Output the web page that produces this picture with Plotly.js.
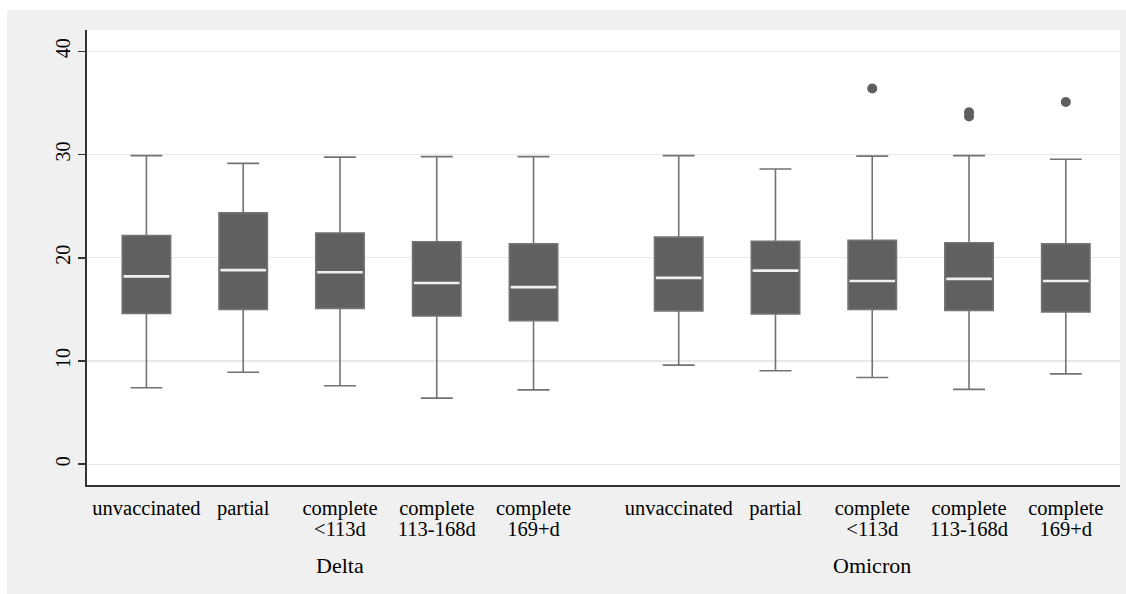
<!DOCTYPE html>
<html>
<head>
<meta charset="utf-8">
<script src="https://cdn.plot.ly/plotly-3.0.1.min.js"></script>
<style>
html,body{margin:0;padding:0;background:#ffffff;}
#chart{position:absolute;left:7px;top:10px;width:1119px;height:584px;}
</style>
</head>
<body>
<div id="chart"></div>
<script>
// ---- data ----
var groups = ["Delta", "Omicron"];
var statusLine1 = ["unvaccinated", "partial", "complete", "complete", "complete"];
var statusLine2 = ["", "", "&lt;113d", "113-168d", "169+d"];

var deltaLower  = [7.4, 8.9, 7.6, 6.4, 7.2];
var deltaQ1     = [14.6, 15.0, 15.1, 14.35, 13.9];
var deltaMedian = [18.2, 18.8, 18.6, 17.55, 17.15];
var deltaQ3     = [22.15, 24.35, 22.4, 21.55, 21.35];
var deltaUpper  = [29.9, 29.15, 29.75, 29.8, 29.8];

var omiLower  = [9.6, 9.05, 8.4, 7.25, 8.75];
var omiQ1     = [14.85, 14.55, 15.0, 14.9, 14.75];
var omiMedian = [18.05, 18.75, 17.75, 17.95, 17.75];
var omiQ3     = [22.0, 21.6, 21.7, 21.45, 21.35];
var omiUpper  = [29.9, 28.6, 29.85, 29.9, 29.55];

// outliers: [status index, value]
var omiOutlierIdx = [2, 3, 3, 4];
var omiOutlierVal = [36.4, 34.1, 33.7, 35.1];

var yTicks = [0, 10, 20, 30, 40];

// ---- build ----
var groupGap = 5.5;
function pos(g, i){ return g * groupGap + i; }

var xs = [], tick1 = [], tick2 = [], lower = [], q1 = [], med = [], q3 = [], upper = [];
[[deltaLower, deltaQ1, deltaMedian, deltaQ3, deltaUpper],
 [omiLower, omiQ1, omiMedian, omiQ3, omiUpper]].forEach(function(s, g){
  for (var i = 0; i < statusLine1.length; i++){
    xs.push(pos(g, i));
    tick1.push(statusLine1[i]);
    tick2.push(statusLine2[i]);
    lower.push(s[0][i]); q1.push(s[1][i]); med.push(s[2][i]); q3.push(s[3][i]); upper.push(s[4][i]);
  }
});

var boxW = 0.5;
var boxTrace = {
  type: "box",
  x: xs,
  q1: q1, median: med, q3: q3,
  lowerfence: lower, upperfence: upper,
  width: boxW,
  whiskerwidth: 0.66,
  fillcolor: "#606060",
  line: {color: "#737373", width: 1.6},
  boxpoints: false,
  hoverinfo: "skip",
  showlegend: false
};

var mx = [], my = [];
for (var k = 0; k < xs.length; k++){
  mx.push(xs[k] - boxW/2 + 0.015, xs[k] + boxW/2 - 0.015, null);
  my.push(med[k], med[k], null);
}
var medianTrace = {
  type: "scatter", mode: "lines",
  x: mx, y: my,
  line: {color: "#efefef", width: 2.6},
  hoverinfo: "skip", showlegend: false
};

var ox = omiOutlierIdx.map(function(i){ return pos(1, i); });
var outlierTrace = {
  type: "scatter", mode: "markers",
  x: ox, y: omiOutlierVal,
  marker: {color: "#5f5f5f", size: 10},
  hoverinfo: "skip", showlegend: false
};

// invisible trace so the second-line tick axis is drawn
var line2Trace = {
  type: "scatter", mode: "markers",
  x: xs, y: xs.map(function(){ return null; }),
  xaxis: "x2", yaxis: "y",
  hoverinfo: "skip", showlegend: false
};

var serif = "Liberation Serif, Times New Roman, serif";
var xRange = [-0.614, 10.06];
var tickFont = {family: serif, size: 20.5, color: "#000000"};
var layout = {
  width: 1119, height: 584,
  paper_bgcolor: "#f0f0f0",
  plot_bgcolor: "#ffffff",
  margin: {l: 80, r: 6, t: 20, b: 109},
  font: {family: serif, color: "#000000", size: 20},
  xaxis: {
    range: xRange,
    tickmode: "array",
    tickvals: xs,
    ticktext: tick1,
    ticks: "outside", ticklen: 4, tickcolor: "rgba(0,0,0,0)",
    showgrid: false, zeroline: false,
    showline: true, linecolor: "#333333", linewidth: 1.8,
    tickfont: tickFont
  },
  xaxis2: {
    range: xRange,
    overlaying: "x", anchor: "y", side: "bottom",
    tickmode: "array",
    tickvals: xs,
    ticktext: tick2,
    ticks: "outside", ticklen: 25, tickcolor: "rgba(0,0,0,0)",
    showgrid: false, zeroline: false, showline: false,
    tickfont: tickFont
  },
  yaxis: {
    range: [-2.02, 42.07],
    tickmode: "array",
    tickvals: yTicks,
    tickangle: -90,
    ticks: "outside", ticklen: 7, tickwidth: 1.5, tickcolor: "#333333",
    showgrid: true, gridcolor: "#e8e8e8", gridwidth: 1.2,
    zeroline: false,
    showline: true, linecolor: "#333333", linewidth: 1.8,
    tickfont: {family: serif, size: 20, color: "#000000"}
  },
  annotations: groups.map(function(g, gi){
    return {
      text: g, xref: "x", yref: "paper",
      x: pos(gi, 2), y: -0.176,
      showarrow: false, xanchor: "center", yanchor: "middle",
      font: {family: serif, size: 22, color: "#000000"}
    };
  })
};

Plotly.newPlot("chart", [boxTrace, medianTrace, outlierTrace, line2Trace], layout, {displayModeBar: false, staticPlot: true});
</script>
</body>
</html>
